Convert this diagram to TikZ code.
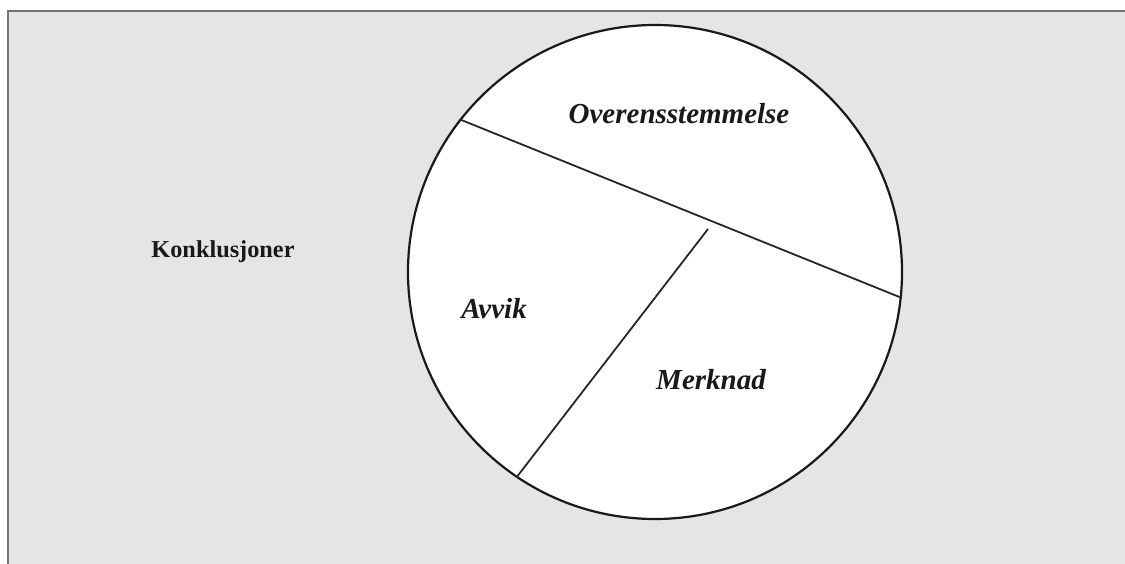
\documentclass[tikz,border=0pt]{standalone}
\usepackage{fontspec}
\setmainfont{Liberation Serif}
\begin{document}
\begin{tikzpicture}[x=1pt,y=-1pt,
  lbl/.style={font=\fontsize{29}{30}\selectfont\bfseries\itshape, anchor=base, inner sep=0pt, text=black!90},
  divider/.style={draw=black!85, line width=1.8pt}]
\useasboundingbox (0,0) rectangle (1125,564);
\fill[white] (0,0) rectangle (1125,564);
\fill[black!10] (8,11) rectangle (1125,564);
\draw[black!55, line width=2pt] (8,564) -- (8,11) -- (1125,11);
\node[lbl, font=\fontsize{24.3}{26}\selectfont\bfseries] (konk) at (223,258) {Konklusjoner};
\node[circle, draw=black!90, fill=white, line width=2.2pt, minimum size=494pt, inner sep=0pt] (c) at (655,272) {};
\coordinate (j) at (708,229);
\draw[divider] (c.142.6) -- (c.-6.3);
\draw[divider] (j) -- (c.-124.7);
\node[lbl] (over) at (679,124) {Overensstemmelse};
\node[lbl] (avvik) at (494,319) {Avvik};
\node[lbl] (merk) at (711,389) {Merknad};
\end{tikzpicture}
\end{document}
